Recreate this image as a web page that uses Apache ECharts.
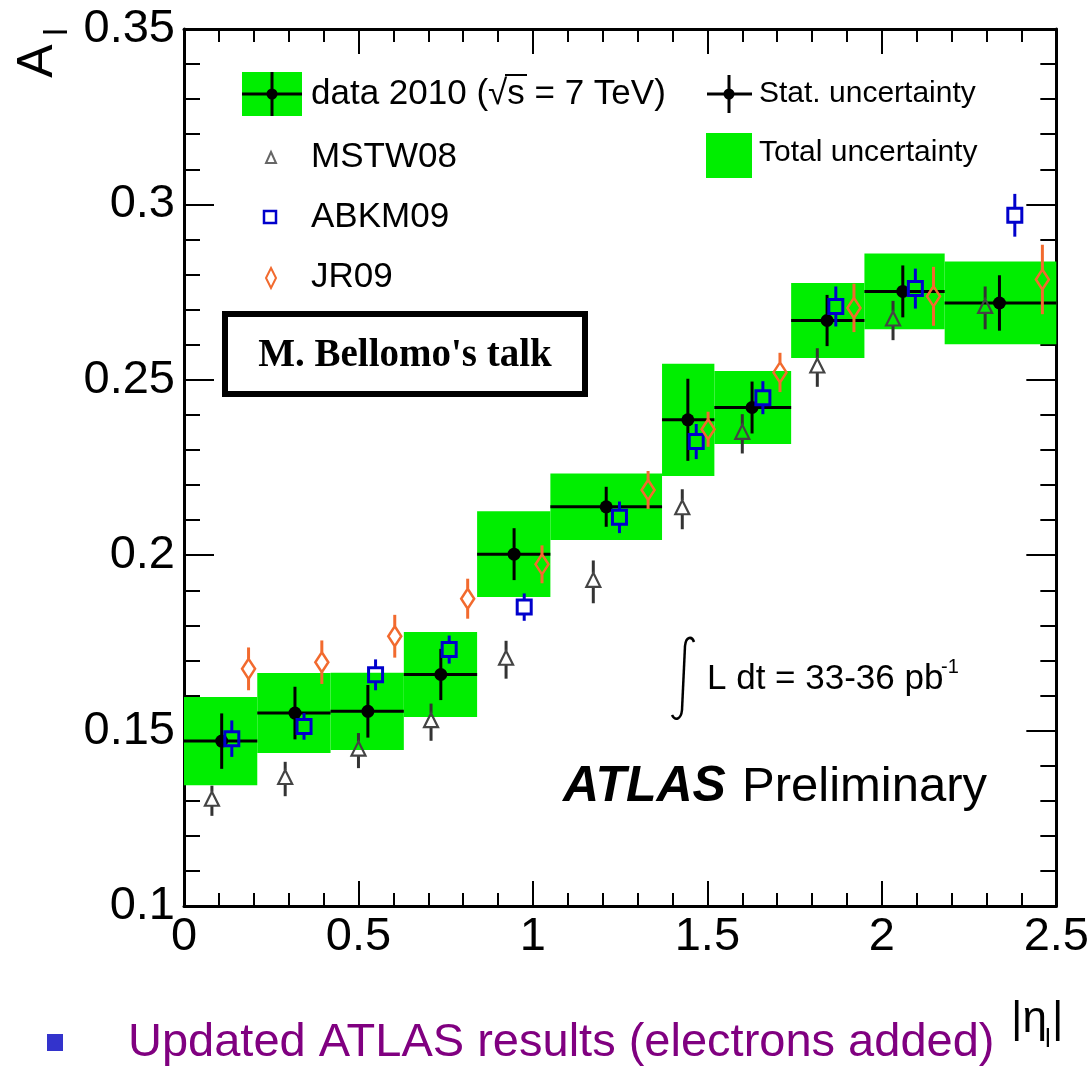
<!DOCTYPE html>
<html>
<head>
<meta charset="utf-8">
<script src="https://cdn.jsdelivr.net/npm/echarts@6/dist/echarts.min.js"></script>
<style>
  html, body { margin: 0; padding: 0; background: #fff; }
  #chart { width: 1092px; height: 1072px; }
</style>
</head>
<body>
<div id="chart"></div>
<script>
// W charge asymmetry vs |eta| : measured bins and PDF-set predictions
const binLow  = [0.00, 0.21, 0.42, 0.63, 0.84, 1.05, 1.37, 1.52, 1.74, 1.95, 2.18];
const binHigh = [0.21, 0.42, 0.63, 0.84, 1.05, 1.37, 1.52, 1.74, 1.95, 2.18, 2.50];

const dataEta   = [0.108, 0.318, 0.527, 0.736, 0.946, 1.210, 1.444, 1.628, 1.843, 2.060, 2.337];
const dataAsym  = [0.1470, 0.1550, 0.1555, 0.1660, 0.2003, 0.2138, 0.2386, 0.2421, 0.2669, 0.2752, 0.2719];
const dataStat  = [0.0079, 0.0075, 0.0075, 0.0073, 0.0074, 0.0057, 0.0117, 0.0074, 0.0073, 0.0074, 0.0079];
const dataTotal = [0.0126, 0.0114, 0.0110, 0.0121, 0.0122, 0.0095, 0.0160, 0.0104, 0.0107, 0.0108, 0.0118];

const mstwEta  = [0.080, 0.290, 0.500, 0.708, 0.923, 1.173, 1.428, 1.600, 1.815, 2.032, 2.296];
const mstwAsym = [0.1300, 0.1362, 0.1443, 0.1524, 0.1702, 0.1924, 0.2131, 0.2346, 0.2535, 0.2669, 0.2705];
const mstwErr  = [0.0043, 0.0049, 0.0050, 0.0053, 0.0054, 0.0061, 0.0057, 0.0056, 0.0055, 0.0056, 0.0061];

const abkmEta  = [0.137, 0.344, 0.549, 0.760, 0.975, 1.248, 1.468, 1.659, 1.868, 2.096, 2.381];
const abkmAsym = [0.1477, 0.1512, 0.1659, 0.1731, 0.1852, 0.2108, 0.2324, 0.2449, 0.2709, 0.2760, 0.2969];
const abkmErr  = [0.0052, 0.0038, 0.0044, 0.0040, 0.0039, 0.0045, 0.0050, 0.0047, 0.0057, 0.0057, 0.0061];

const jrEta  = [0.185, 0.395, 0.604, 0.813, 1.026, 1.330, 1.502, 1.708, 1.920, 2.148, 2.460];
const jrAsym = [0.1676, 0.1695, 0.1769, 0.1876, 0.1974, 0.2186, 0.2359, 0.2521, 0.2705, 0.2738, 0.2786];
const jrErr  = [0.0061, 0.0062, 0.0061, 0.0057, 0.0054, 0.0054, 0.0050, 0.0056, 0.0069, 0.0084, 0.0099];

const xTickLabels = ['0', '0.5', '1', '1.5', '2', '2.5'];
const yTickLabels = ['0.1', '0.15', '0.2', '0.25', '0.3', '0.35'];

const GREEN = '#00ee00';
const BLUE = '#0000cc';
const ORANGE = '#f26a2e';
const GREY = '#444444';
const SANS = 'Liberation Sans';

const chart = echarts.init(document.getElementById('chart'), null, { renderer: 'canvas' });

// rows for the custom series
const boxRows   = binLow.map((lo, i) => [lo, binHigh[i], dataAsym[i], dataTotal[i]]);
const crossRows = dataEta.map((x, i) => [x, binLow[i], binHigh[i], dataAsym[i], dataStat[i]]);
const mstwRows  = mstwEta.map((x, i) => [x, mstwAsym[i], mstwErr[i]]);
const abkmRows  = abkmEta.map((x, i) => [x, abkmAsym[i], abkmErr[i]]);
const jrRows    = jrEta.map((x, i) => [x, jrAsym[i], jrErr[i]]);

function renderBox(params, api) {
  const lo = api.value(0), hi = api.value(1), y = api.value(2), e = api.value(3);
  const a = api.coord([lo, y + e]);
  const b = api.coord([hi, y - e]);
  return { type: 'rect', shape: { x: a[0], y: a[1], width: b[0] - a[0], height: b[1] - a[1] },
           style: { fill: GREEN } };
}

function renderCross(params, api) {
  const x = api.value(0), lo = api.value(1), hi = api.value(2), y = api.value(3), s = api.value(4);
  const c = api.coord([x, y]);
  const l = api.coord([lo, y]);
  const r = api.coord([hi, y]);
  const t = api.coord([x, y + s]);
  const d = api.coord([x, y - s]);
  return { type: 'group', children: [
    { type: 'line', shape: { x1: l[0], y1: c[1], x2: r[0], y2: c[1] }, style: { stroke: '#000', lineWidth: 3 } },
    { type: 'line', shape: { x1: c[0], y1: t[1], x2: c[0], y2: d[1] }, style: { stroke: '#000', lineWidth: 3 } },
    { type: 'circle', shape: { cx: c[0], cy: c[1], r: 6.5 }, style: { fill: '#000' } }
  ] };
}

function modelRenderer(kind, color, barColor) {
  return function (params, api) {
    const x = api.value(0), y = api.value(1), e = api.value(2);
    const c = api.coord([x, y]);
    const t = api.coord([x, y + e]);
    const d = api.coord([x, y - e]);
    let gapTop, gapBot, marker;
    if (kind === 'square') {
      gapTop = 7; gapBot = 7;
      marker = { type: 'rect', shape: { x: c[0] - 7, y: c[1] - 7, width: 14, height: 14 },
                 style: { fill: 'none', stroke: color, lineWidth: 3 } };
    } else if (kind === 'triangle') {
      gapTop = 9; gapBot = 5;
      marker = { type: 'polygon', shape: { points: [[c[0], c[1] - 9], [c[0] + 7, c[1] + 5], [c[0] - 7, c[1] + 5]] },
                 style: { fill: 'none', stroke: color, lineWidth: 2.2 } };
    } else {
      gapTop = 10; gapBot = 10;
      marker = { type: 'polygon', shape: { points: [[c[0], c[1] - 10], [c[0] + 6.5, c[1]], [c[0], c[1] + 10], [c[0] - 6.5, c[1]]] },
                 style: { fill: 'none', stroke: color, lineWidth: 2.5 } };
    }
    return { type: 'group', children: [
      { type: 'line', shape: { x1: c[0], y1: t[1], x2: c[0], y2: c[1] - gapTop }, style: { stroke: barColor, lineWidth: 3 } },
      { type: 'line', shape: { x1: c[0], y1: c[1] + gapBot, x2: c[0], y2: d[1] }, style: { stroke: barColor, lineWidth: 3 } },
      marker
    ] };
  };
}

function makeX(position, showLabel) {
  return {
    type: 'value', min: 0, max: 2.5, interval: 0.5, position: position,
    axisLine: { show: true, onZero: false, lineStyle: { color: '#000', width: 3 } },
    axisTick: { show: true, inside: true, length: 25, lineStyle: { color: '#000', width: 2 } },
    minorTick: { show: true, splitNumber: 5, length: 13, lineStyle: { color: '#000', width: 2 } },
    splitLine: { show: false }, minorSplitLine: { show: false },
    axisLabel: { show: showLabel, margin: 8, fontSize: 47, fontFamily: SANS, color: '#000',
                 showMinLabel: true, showMaxLabel: true,
                 formatter: v => xTickLabels[Math.round(v / 0.5)] }
  };
}
function makeY(position, showLabel) {
  return {
    type: 'value', min: 0.1, max: 0.35, interval: 0.05, position: position,
    axisLine: { show: true, onZero: false, lineStyle: { color: '#000', width: 3 } },
    axisTick: { show: true, inside: true, length: 30, lineStyle: { color: '#000', width: 2 } },
    minorTick: { show: true, splitNumber: 5, length: 16, lineStyle: { color: '#000', width: 2 } },
    splitLine: { show: false }, minorSplitLine: { show: false },
    axisLabel: { show: showLabel, margin: 9, fontSize: 47, fontFamily: SANS, color: '#000',
                 showMinLabel: true, showMaxLabel: true,
                 formatter: v => yTickLabels[Math.round((v - 0.1) / 0.05)] }
  };
}

function txt(text, x, y, size, extra) {
  return {
    type: 'text', x: x, y: y, z: 100,
    style: Object.assign({ text: text, fontSize: size, fontFamily: SANS, fill: '#000',
                           align: 'left', verticalAlign: 'middle' }, extra || {})
  };
}
function seg(x1, y1, x2, y2, color, w) {
  return { type: 'line', z: 100, shape: { x1, y1, x2, y2 }, style: { stroke: color, lineWidth: w } };
}
function curve(x1, y1, cx1, cy1, cx2, cy2, x2, y2) {
  return { type: 'bezierCurve', z: 100,
           shape: { x1, y1, cpx1: cx1, cpy1: cy1, cpx2: cx2, cpy2: cy2, x2, y2 },
           style: { fill: 'none', stroke: '#000', lineWidth: 2.5 } };
}

const graphics = [
  // legend: data entry
  { type: 'rect', z: 99, shape: { x: 242, y: 72, width: 60, height: 44 }, style: { fill: GREEN } },
  seg(242, 94, 302, 94, '#000', 3), seg(272, 72, 272, 116, '#000', 3),
  { type: 'circle', z: 100, shape: { cx: 272, cy: 94, r: 5.5 }, style: { fill: '#000' } },
  txt('data 2010 (\u221As = 7 TeV)', 311, 94, 35),
  seg(505, 75, 527, 75, '#000', 2),
  // legend: statistical cross
  seg(707, 94, 752, 94, '#000', 3), seg(729, 75, 729, 113, '#000', 3),
  { type: 'circle', z: 100, shape: { cx: 729, cy: 94, r: 5.5 }, style: { fill: '#000' } },
  txt('Stat. uncertainty', 759, 94, 30),
  // legend: total band
  { type: 'rect', z: 99, shape: { x: 706, y: 133, width: 46, height: 45 }, style: { fill: GREEN } },
  txt('Total uncertainty', 759, 153, 30),
  // legend: predictions
  { type: 'polygon', z: 100, shape: { points: [[271, 152], [276, 163], [266, 163]] }, style: { fill: 'none', stroke: '#666', lineWidth: 2 } },
  txt('MSTW08', 311, 157, 35),
  { type: 'rect', z: 100, shape: { x: 264, y: 211, width: 12, height: 12 }, style: { fill: 'none', stroke: BLUE, lineWidth: 2.5 } },
  txt('ABKM09', 311, 217, 35),
  { type: 'polygon', z: 100, shape: { points: [[271, 268], [276, 278], [271, 288], [266, 278]] }, style: { fill: 'none', stroke: ORANGE, lineWidth: 2 } },
  txt('JR09', 311, 277, 35),
  // talk box
  { type: 'rect', z: 100, shape: { x: 225, y: 314, width: 360, height: 80 }, style: { fill: '#fff', stroke: '#000', lineWidth: 6 } },
  txt("M. Bellomo's talk", 405, 356, 39, { fontFamily: 'Liberation Serif', fontWeight: 'bold', align: 'center' }),
  // luminosity: integral sign drawn as strokes
  curve(694, 642, 692, 636, 686, 636, 685, 646),
  seg(685, 646, 682, 710, '#000', 2.5),
  curve(682, 710, 681, 720, 675, 721, 672, 715),
  txt('L dt = 33-36 pb', 707, 679, 35),
  txt('-1', 941, 667, 20),
  // experiment label
  txt('ATLAS', 563, 787, 50, { fontWeight: 'bold', fontStyle: 'italic' }),
  txt('Preliminary', 742, 787, 49),
  // axis titles
  { type: 'text', x: 38, y: 61, rotation: Math.PI / 2, z: 100,
    style: { text: 'A', fontSize: 50, fontFamily: SANS, fill: '#000', align: 'center', verticalAlign: 'middle' } },
  { type: 'text', x: 58, y: 32, rotation: Math.PI / 2, z: 100,
    style: { text: 'l', fontSize: 34, fontFamily: SANS, fill: '#000', align: 'center', verticalAlign: 'middle' } },
  txt('|\u03B7', 1011, 1020, 44),
  txt('l', 1045, 1040, 26),
  txt('|', 1052, 1020, 44),
  // bullet line
  { type: 'rect', z: 100, shape: { x: 47, y: 1034, width: 16, height: 17 }, style: { fill: '#3333cc' } },
  txt('Updated ATLAS results (electrons added)', 128, 1043, 47, { fill: '#800080' })
];

chart.setOption({
  animation: false,
  backgroundColor: '#fff',
  grid: { left: 184, right: 32, top: 29, bottom: 166, containLabel: false },
  xAxis: [makeX('bottom', true), makeX('top', false)],
  yAxis: [makeY('left', true), makeY('right', false)],
  series: [
    { type: 'custom', name: 'Total uncertainty', renderItem: renderBox, data: boxRows, silent: true, z: 1 },
    { type: 'custom', name: 'data 2010', renderItem: renderCross, data: crossRows, silent: true, z: 2 },
    { type: 'custom', name: 'MSTW08', renderItem: modelRenderer('triangle', GREY, '#333'), data: mstwRows, silent: true, z: 3 },
    { type: 'custom', name: 'ABKM09', renderItem: modelRenderer('square', BLUE, BLUE), data: abkmRows, silent: true, z: 3 },
    { type: 'custom', name: 'JR09', renderItem: modelRenderer('diamond', ORANGE, ORANGE), data: jrRows, silent: true, z: 3 }
  ],
  graphic: graphics
});
</script>
</body>
</html>
